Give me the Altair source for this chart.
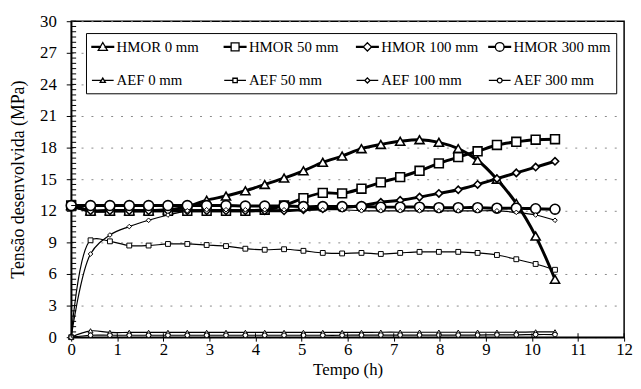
import altair as alt
import pandas as pd

# ---------------- data ----------------
time_h = [0, 0.42, 0.84, 1.26, 1.68, 2.10, 2.52, 2.94, 3.36, 3.78, 4.20, 4.62, 5.04,
          5.46, 5.88, 6.30, 6.72, 7.14, 7.56, 7.98, 8.40, 8.82, 9.24, 9.66, 10.08, 10.50]

hmor_0 = [12.5, 12.0, 12.0, 12.0, 12.0, 12.1, 12.4, 13.0, 13.4, 13.9, 14.5, 15.1, 15.8,
          16.6, 17.2, 17.9, 18.3, 18.6, 18.75, 18.5, 17.9, 16.8, 15.0, 12.7, 9.6, 5.5]
hmor_50 = [12.5, 12.0, 12.0, 12.0, 12.0, 12.0, 12.0, 12.0, 12.0, 12.0, 12.1, 12.5, 13.2,
           13.7, 13.65, 14.1, 14.7, 15.2, 15.8, 16.5, 17.1, 17.65, 18.25, 18.55, 18.75, 18.8]
hmor_100 = [12.5, 12.0, 12.0, 12.0, 12.0, 12.0, 12.0, 12.0, 12.0, 12.0, 12.0, 12.0, 12.1,
            12.2, 12.3, 12.5, 12.8, 13.0, 13.3, 13.65, 14.0, 14.5, 15.05, 15.6, 16.15, 16.7]
hmor_300 = [12.5, 12.5, 12.5, 12.5, 12.5, 12.5, 12.5, 12.5, 12.5, 12.45, 12.45, 12.45, 12.4,
            12.4, 12.4, 12.4, 12.35, 12.35, 12.35, 12.3, 12.3, 12.3, 12.25, 12.25, 12.2, 12.15]
aef_0 = [0, 0.6, 0.45, 0.45, 0.45, 0.45, 0.45, 0.45, 0.45, 0.45, 0.45, 0.45, 0.45,
         0.45, 0.45, 0.45, 0.47, 0.47, 0.47, 0.47, 0.47, 0.47, 0.47, 0.47, 0.5, 0.5]
aef_50 = [0, 9.2, 9.1, 8.7, 8.7, 8.85, 8.85, 8.75, 8.65, 8.4, 8.3, 8.35, 8.2,
          8.0, 7.95, 8.0, 7.9, 8.0, 8.1, 8.1, 8.1, 8.0, 7.8, 7.4, 6.95, 6.4]
aef_100 = [0, 7.9, 9.7, 10.5, 11.1, 11.6, 12.0, 12.1, 12.1, 12.1, 12.1, 12.1, 12.1,
           12.1, 12.1, 12.0, 12.0, 12.0, 12.0, 12.0, 12.0, 12.0, 12.0, 11.85, 11.6, 11.1]
aef_300 = [0, 0.18, 0.18, 0.18, 0.18, 0.18, 0.18, 0.18, 0.18, 0.18, 0.18, 0.18, 0.18,
           0.18, 0.18, 0.2, 0.2, 0.2, 0.2, 0.2, 0.2, 0.2, 0.22, 0.22, 0.25, 0.25]

series_names = ["HMOR 0 mm", "HMOR 50 mm", "HMOR 100 mm", "HMOR 300 mm",
                "AEF 0 mm", "AEF 50 mm", "AEF 100 mm", "AEF 300 mm"]
series_values = [hmor_0, hmor_50, hmor_100, hmor_300, aef_0, aef_50, aef_100, aef_300]

x_tick_values = list(range(0, 13))
y_tick_values = list(range(0, 31, 3))
y_minor_values = [i * 0.5 for i in range(0, 61)]

rows = []
for name, vals in zip(series_names, series_values):
    for t, v in zip(time_h, vals):
        rows.append({"series": name, "t": t, "v": v})
df = pd.DataFrame(rows)

# ---------------- styles ----------------
FONT = "Liberation Serif, Times New Roman, DejaVu Serif, serif"
W, H = 560, 320

xs = alt.Scale(domain=[0, 12], nice=False, zero=False)
ys = alt.Scale(domain=[0, 30], nice=False, zero=False)

xaxis = alt.Axis(values=x_tick_values, tickSize=4, labelPadding=1, grid=False,
                 title="Tempo (h)", titlePadding=4, labelFontSize=17, titleFontSize=17,
                 labelFont=FONT, titleFont=FONT, labelFlush=False)
yaxis = alt.Axis(values=y_tick_values, tickSize=5, labelPadding=10, grid=True,
                 gridDash=[2, 8], gridColor="#888888", gridWidth=1,
                 title="Tensão desenvolvida (MPa)", titlePadding=12,
                 labelFont=FONT, titleFont=FONT,
                 labelFontSize=17, titleFontSize=18)

line_widths = [3, 3, 3, 3, 1.2, 1.2, 1.2, 1.2]
pt_shapes = ["triangle-up", "square", "diamond", "circle"] * 2
pt_sizes = [85, 80, 55, 100, 26, 24, 22, 22]
pt_strokes = [1.6, 1.6, 1.6, 1.6, 1, 1, 1, 1]

# legend glyphs: line segment with a marker in the middle (unit box = 16px)
# thick segments are thin closed bars (stroked -> ~2.5px), thin ones are open strokes
TL = "M-1.375,-0.07H-{a}V0.07H-1.375ZM{a},-0.07H1.375V0.07H{a}Z"
tl = "M-1.375,0H-{a}M{a},0H1.375"
leg_paths = [
    TL.format(a=0.3) + "M0,-0.55L0.58,0.44L-0.58,0.44Z",
    TL.format(a=0.5) + "M-0.5,-0.5H0.5V0.5H-0.5Z",
    TL.format(a=0.46) + "M0,-0.52L0.52,0L0,0.52L-0.52,0Z",
    TL.format(a=0.54) + "M-0.55,0A0.55,0.55,0,1,0,0.55,0A0.55,0.55,0,1,0,-0.55,0Z",
    tl.format(a=0.18) + "M0,-0.3L0.33,0.25L-0.33,0.25Z",
    tl.format(a=0.28) + "M-0.28,-0.28H0.28V0.28H-0.28Z",
    tl.format(a=0.33) + "M0,-0.33L0.33,0L0,0.33L-0.33,0Z",
    tl.format(a=0.3) + "M-0.3,0A0.3,0.3,0,1,0,0.3,0A0.3,0.3,0,1,0,-0.3,0Z",
]

base = alt.Chart(df)

lines = base.mark_line(interpolate="catmull-rom", color="black").encode(
    x=alt.X("t:Q", scale=xs, axis=xaxis),
    y=alt.Y("v:Q", scale=ys, axis=yaxis),
    detail="series:N",
    strokeWidth=alt.StrokeWidth("series:N", scale=alt.Scale(type="ordinal", domain=series_names, range=line_widths), legend=None),
)

points = base.mark_point(filled=True, fill="white", stroke="black", opacity=1).encode(
    x=alt.X("t:Q", scale=xs, axis=xaxis),
    y=alt.Y("v:Q", scale=ys, axis=yaxis),
    shape=alt.Shape("series:N", scale=alt.Scale(domain=series_names, range=pt_shapes), legend=None),
    size=alt.Size("series:N", scale=alt.Scale(type="ordinal", domain=series_names, range=pt_sizes), legend=None),
    strokeWidth=alt.StrokeWidth("series:N", scale=alt.Scale(type="ordinal", domain=series_names, range=pt_strokes), legend=None),
)

legend_def = alt.Legend(
    title=None, orient="none", legendX=15, legendY=12, columns=4, direction="horizontal",
    gridAlign="all", columnPadding=7, rowPadding=17, padding=5, strokeColor="black",
    fillColor="white",
    labelFont=FONT, labelFontSize=15, labelColor="black", labelOffset=5, symbolOffset=3,
    symbolSize=256, symbolStrokeWidth=1.3,
    symbolFillColor="white", symbolStrokeColor="black", symbolOpacity=1,
)

# invisible layer that only carries the legend
legend_layer = base.mark_point(filled=False, color="black", opacity=0).encode(
    x=alt.X("t:Q", scale=xs, axis=xaxis),
    y=alt.Y("v:Q", scale=ys, axis=yaxis),
    shape=alt.Shape("series:N", scale=alt.Scale(domain=series_names, range=leg_paths), legend=legend_def),
)

ymin_df = pd.DataFrame({"y": y_minor_values})
y_minor = alt.Chart(ymin_df).mark_rule(color="black", strokeWidth=1).encode(
    y=alt.Y("y:Q", scale=ys, axis=yaxis),
    x=alt.value(0), x2=alt.value(5),
)

xt_df = pd.DataFrame({"x": x_tick_values})
x_inner = alt.Chart(xt_df).mark_rule(color="black", strokeWidth=1).encode(
    x=alt.X("x:Q", scale=xs, axis=xaxis),
    y=alt.value(H - 4), y2=alt.value(H),
)

chart = alt.layer(lines, points, legend_layer, y_minor, x_inner).resolve_scale(
    shape="independent", strokeWidth="independent", size="independent"
).properties(
    width=W, height=H,
    autosize=alt.AutoSizeParams(type="none"),
    padding={"left": 64, "top": 11, "right": 9, "bottom": 42},
    background="white",
).configure(
    font=FONT
).configure_view(
    stroke="black", strokeWidth=1.5
).configure_axis(
    labelFont=FONT, titleFont=FONT, labelColor="black", titleColor="black",
    domainColor="black", tickColor="black", domainWidth=1.5, titleFontWeight="normal",
).configure_legend(
    labelFont=FONT
)

chart.save("out.html", embed_options={"renderer": "svg", "actions": False})
